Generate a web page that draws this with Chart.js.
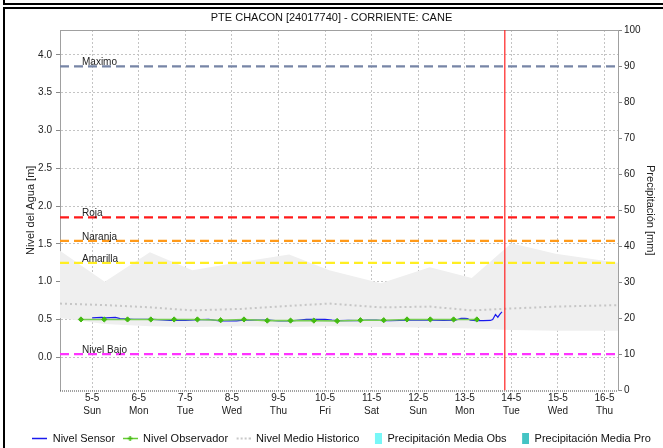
<!DOCTYPE html>
<html><head><meta charset="utf-8">
<script src="https://cdn.jsdelivr.net/npm/chart.js@4.4.1/dist/chart.umd.min.js"></script>
<style>
html,body{margin:0;padding:0;background:#fff;overflow:hidden;width:663px;height:448px;}
#wrap{position:relative;width:663px;height:448px;overflow:hidden;background:#fff;}
.f1{position:absolute;left:3px;top:-1px;width:700px;height:4px;border-left:2px solid #000;border-bottom:2px solid #000;}
.f2{position:absolute;left:3px;top:7px;width:700px;height:500px;border-left:2px solid #000;border-top:2px solid #000;}
canvas{position:absolute;left:0;top:0;}
</style></head>
<body><div id="wrap"><div class="f1"></div><div class="f2"></div><canvas id="c" width="663" height="454"></canvas></div>
<script>
const chartTitle = 'PTE CHACON [24017740] - CORRIENTE: CANE';
const dayTicks = [5, 6, 7, 8, 9, 10, 11, 12, 13, 14, 15, 16];
const dayLabels = ['5-5', '6-5', '7-5', '8-5', '9-5', '10-5', '11-5', '12-5', '13-5', '14-5', '15-5', '16-5'];
const weekdayLabels = ['Sun', 'Mon', 'Tue', 'Wed', 'Thu', 'Fri', 'Sat', 'Sun', 'Mon', 'Tue', 'Wed', 'Thu'];
const levelTicks = [0, 0.5, 1, 1.5, 2, 2.5, 3, 3.5, 4];
const precipTicks = [0, 10, 20, 30, 40, 50, 60, 70, 80, 90, 100];
const axisStartDay = 4.31, axisEndDay = 16.29;
const levelMin = -0.44, levelMax = 4.33;
const precipMin = 0, precipMax = 100;

const sensorDays = [5.00, 5.10, 5.20, 5.30, 5.40, 5.50, 5.60, 5.75, 5.90, 6.10, 6.30, 6.50, 6.67, 6.80, 7.00, 7.20, 7.50, 7.74, 7.90, 8.10, 8.30, 8.55, 8.80, 9.00, 9.15, 9.27, 9.45, 9.60, 9.80, 10.00, 10.15, 10.30, 10.50, 10.70, 10.90, 11.10, 11.25, 11.40, 11.60, 11.80, 12.00, 12.30, 12.55, 12.80, 12.92, 13.00, 13.06, 13.12, 13.25, 13.40, 13.55, 13.60, 13.66, 13.71, 13.76, 13.80];
const sensorLevels = [0.52, 0.525, 0.527, 0.52, 0.525, 0.527, 0.51, 0.505, 0.50, 0.50, 0.50, 0.495, 0.487, 0.49, 0.487, 0.495, 0.50, 0.48, 0.482, 0.48, 0.495, 0.49, 0.49, 0.48, 0.482, 0.48, 0.49, 0.50, 0.502, 0.50, 0.49, 0.485, 0.487, 0.485, 0.49, 0.49, 0.485, 0.483, 0.486, 0.49, 0.49, 0.49, 0.488, 0.49, 0.515, 0.515, 0.51, 0.49, 0.485, 0.485, 0.487, 0.50, 0.565, 0.53, 0.575, 0.60];

const observerDays = [4.76, 5.26, 5.76, 6.26, 6.76, 7.26, 7.76, 8.26, 8.76, 9.26, 9.76, 10.26, 10.76, 11.26, 11.76, 12.26, 12.76, 13.26];
const observerLevels = [0.50, 0.50, 0.50, 0.50, 0.50, 0.50, 0.49, 0.50, 0.485, 0.485, 0.485, 0.48, 0.49, 0.49, 0.50, 0.50, 0.50, 0.50];

const histDays = [4.31, 5.27, 6.24, 7.15, 8.20, 9.23, 10.09, 11.20, 12.25, 13.15, 14.00, 14.95, 16.29];
const histMax = [1.41, 1.00, 1.39, 1.15, 1.26, 1.36, 1.15, 0.98, 1.19, 1.05, 1.51, 1.37, 1.25];
const histMean = [0.71, 0.69, 0.66, 0.62, 0.64, 0.68, 0.71, 0.66, 0.67, 0.62, 0.645, 0.67, 0.69];
const histMin = [0.52, 0.44, 0.41, 0.40, 0.41, 0.40, 0.41, 0.40, 0.39, 0.38, 0.36, 0.35, 0.35];

const thresholdNames = ['Maximo', 'Roja', 'Naranja', 'Amarilla', 'Nivel Bajo'];
const thresholdLevels = [3.85, 1.85, 1.54, 1.25, 0.04];
const thresholdColors = ['#7785a6', '#ff1a1a', '#ff9a1a', '#ffee22', '#ff33ff'];

const nowDay = 13.86;
const precipObs = [];
const precipPro = [];

const FONT = '"Liberation Sans", Arial, sans-serif';
Chart.defaults.font.family = FONT;
Chart.defaults.color = '#222';

const pts = (xs, ys) => xs.map((x, i) => ({x: x, y: ys[i]}));

function icon(draw) {
  const c = document.createElement('canvas');
  c.width = 15; c.height = 11;
  draw(c.getContext('2d'));
  return c;
}
const iconSensor = icon(ctx => { ctx.strokeStyle = '#1a1aee'; ctx.lineWidth = 1.5; ctx.beginPath(); ctx.moveTo(0, 5.5); ctx.lineTo(15, 5.5); ctx.stroke(); });
const iconObs = icon(ctx => {
  ctx.strokeStyle = '#66cc33'; ctx.lineWidth = 1.5; ctx.beginPath(); ctx.moveTo(0, 5.5); ctx.lineTo(15, 5.5); ctx.stroke();
  ctx.strokeStyle = '#44bb11'; ctx.lineWidth = 1.6; ctx.beginPath(); ctx.moveTo(7.5, 3); ctx.lineTo(7.5, 8); ctx.moveTo(5, 5.5); ctx.lineTo(10, 5.5); ctx.stroke();
});
const iconMean = icon(ctx => { ctx.fillStyle = '#c8c8c8'; for (let x = 1; x < 15; x += 4) ctx.fillRect(x, 4.5, 2, 2); });
const iconPObs = icon(ctx => { ctx.fillStyle = '#77f7f7'; ctx.fillRect(8, 0, 7, 11); });
const iconPPro = icon(ctx => { ctx.fillStyle = '#44c4c4'; ctx.fillRect(8, 0, 7, 11); });

const legendEntries = [
  {text: 'Nivel Sensor', pointStyle: iconSensor},
  {text: 'Nivel Observador', pointStyle: iconObs},
  {text: 'Nivel Medio Historico', pointStyle: iconMean},
  {text: 'Precipitación Media Obs', pointStyle: iconPObs},
  {text: 'Precipitación Media Pro', pointStyle: iconPPro}
];

const datasets = [];
datasets.push({type: 'line', label: 'Max Historico', data: pts(histDays, histMax), borderWidth: 0, borderColor: 'rgba(0,0,0,0)', backgroundColor: '#efefef', pointRadius: 0, fill: '+1', tension: 0, order: 20});
datasets.push({type: 'line', label: 'Min Historico', data: pts(histDays, histMin), borderWidth: 0, borderColor: 'rgba(0,0,0,0)', pointRadius: 0, fill: false, tension: 0, order: 19});
datasets.push({type: 'line', label: 'Nivel Medio Historico', data: pts(histDays, histMean), borderColor: '#c6c6c6', borderWidth: 2, borderDash: [2, 3], pointRadius: 0, fill: false, tension: 0, order: 18});
thresholdLevels.forEach((v, i) => {
  datasets.push({type: 'line', label: thresholdNames[i], data: [{x: axisStartDay, y: v}, {x: axisEndDay, y: v}], borderColor: thresholdColors[i], borderWidth: 2.2, borderDash: [9, 5], pointRadius: 0, fill: false, order: 15});
});
datasets.push({type: 'line', label: 'Nivel Sensor', data: pts(sensorDays, sensorLevels), borderColor: '#1a1aee', borderWidth: 1.2, pointRadius: 0, fill: false, tension: 0, order: 6});
datasets.push({type: 'line', label: 'Nivel Observador', data: pts(observerDays, observerLevels), borderColor: '#77cc55', borderWidth: 1.6, pointStyle: 'rectRot', pointRadius: 2.6, pointBackgroundColor: '#44bb11', pointBorderColor: '#44bb11', pointBorderWidth: 1, fill: false, tension: 0, order: 5});
datasets.push({type: 'line', label: 'Ahora', data: [{x: nowDay, y: levelMin}, {x: nowDay, y: levelMax}], borderColor: '#ff2020', borderWidth: 1.2, pointRadius: 0, fill: false, order: 4});
datasets.push({type: 'bar', label: 'Precipitación Media Obs', data: precipObs, yAxisID: 'y1', backgroundColor: '#77f7f7', order: 3});
datasets.push({type: 'bar', label: 'Precipitación Media Pro', data: precipPro, yAxisID: 'y1', backgroundColor: '#44c4c4', order: 2});

const titlePlugin = {
  id: 'titleText',
  afterDraw(chart) {
    const ctx = chart.ctx;
    ctx.save();
    ctx.font = '11px ' + FONT;
    ctx.fillStyle = '#111';
    ctx.textAlign = 'center';
    ctx.textBaseline = 'middle';
    ctx.fillText(chartTitle, chart.width / 2, 18);
    ctx.restore();
  }
};
const framePlugin = {
  id: 'plotFrame',
  beforeDatasetsDraw(chart) {
    const {ctx, chartArea: a} = chart;
    ctx.save();
    ctx.lineWidth = 1;
    ctx.strokeStyle = '#a0a0a0';
    ctx.beginPath(); ctx.moveTo(a.left, a.top + 0.5); ctx.lineTo(a.right, a.top + 0.5); ctx.stroke();
    ctx.strokeStyle = '#444';
    ctx.setLineDash([1, 1]);
    ctx.beginPath(); ctx.moveTo(a.left, a.bottom + 0.5); ctx.lineTo(a.right, a.bottom + 0.5); ctx.stroke();
    ctx.restore();
  }
};
const thresholdLabelPlugin = {
  id: 'thresholdLabels',
  afterDatasetsDraw(chart) {
    const {ctx, chartArea: a, scales} = chart;
    ctx.save();
    ctx.font = '10px ' + FONT;
    ctx.fillStyle = '#222';
    ctx.textAlign = 'left';
    ctx.textBaseline = 'alphabetic';
    thresholdLevels.forEach((v, i) => {
      ctx.fillText(thresholdNames[i], a.left + 22, scales.y.getPixelForValue(v) - 1);
    });
    ctx.restore();
  }
};

new Chart(document.getElementById('c'), {
  data: {datasets: datasets},
  options: {
    responsive: false,
    animation: false,
    events: [],
    layout: {padding: {left: 20, right: 0, top: 30, bottom: 0}},
    scales: {
      x: {
        type: 'linear', position: 'bottom', min: axisStartDay, max: axisEndDay, offset: false,
        afterBuildTicks: s => { s.ticks = dayTicks.map(v => ({value: v})); },
        afterFit: s => { s.height = 35; },
        ticks: {
          autoSkip: false, maxRotation: 0, padding: 1, color: '#222',
          font: {size: 10, lineHeight: 1.3},
          callback: v => { const i = dayTicks.indexOf(v); return i < 0 ? '' : [dayLabels[i], weekdayLabels[i]]; }
        },
        grid: {color: '#c4c4c4', drawTicks: false, offset: false},
        border: {display: false, dash: [2, 2]}
      },
      y: {
        type: 'linear', position: 'left', min: levelMin, max: levelMax,
        afterBuildTicks: s => { s.ticks = levelTicks.map(v => ({value: v})); },
        afterFit: s => { s.width = 40; },
        ticks: {padding: 4, color: '#222', font: {size: 10}, callback: v => Number(v).toFixed(1)},
        grid: {color: '#c4c4c4', tickColor: '#888', tickLength: 4, tickBorderDash: []},
        border: {color: '#a0a0a0', dash: [2, 2]},
        title: {display: true, text: 'Nivel del Agua [m]', color: '#222', font: {size: 11}, padding: {top: 4, bottom: 4}}
      },
      y1: {
        type: 'linear', position: 'right', min: precipMin, max: precipMax,
        afterBuildTicks: s => { s.ticks = precipTicks.map(v => ({value: v})); },
        afterFit: s => { s.width = 45; },
        ticks: {padding: 2, color: '#222', font: {size: 10}},
        grid: {drawOnChartArea: false, color: '#888', tickLength: 4},
        border: {color: '#a0a0a0'},
        title: {display: true, text: 'Precipitación [mm]', color: '#222', font: {size: 11}, padding: {top: 6, bottom: 4}}
      }
    },
    plugins: {
      tooltip: {enabled: false},
      title: {display: false},
      legend: {
        display: true, position: 'bottom', align: 'center',
        labels: {
          usePointStyle: true, pointStyleWidth: 15, boxWidth: 15, boxHeight: 11, padding: 7.5,
          color: '#111', font: {size: 11},
          generateLabels: () => legendEntries.map((e, i) => ({text: e.text, pointStyle: e.pointStyle, fillStyle: 'rgba(0,0,0,0)', strokeStyle: 'rgba(0,0,0,0)', lineWidth: 0, hidden: false, datasetIndex: i, fontColor: '#111'}))
        }
      }
    }
  },
  plugins: [titlePlugin, framePlugin, thresholdLabelPlugin]
});
</script></body></html>
